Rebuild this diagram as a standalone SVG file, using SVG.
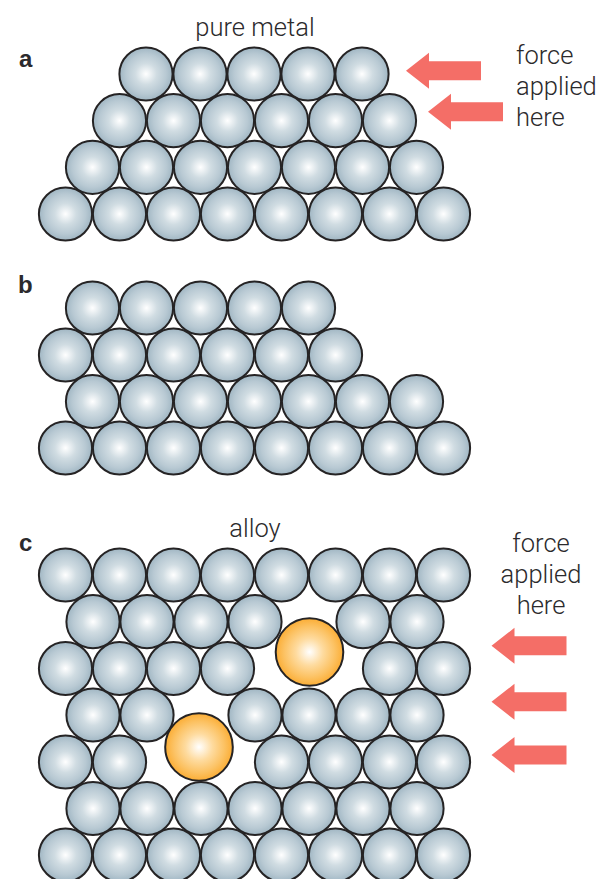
<svg xmlns="http://www.w3.org/2000/svg" width="607" height="879" viewBox="0 0 607 879">
<style>
.m{fill:url(#metal);stroke:#252324;stroke-width:2}
.g{fill:url(#solute);stroke:#252324;stroke-width:2}
.arrow{fill:#f46e67}
text{font-family:Roboto,"Liberation Sans",sans-serif;font-weight:300;font-size:25.5px;fill:#2b2a2c}
.mid{text-anchor:middle}
text.tag{font-family:"Liberation Sans",Arial,sans-serif;font-weight:700;font-size:24px;fill:#2b2a2c}
</style>
<defs>
<radialGradient id="metal"><stop offset="0" stop-color="#ffffff"/><stop offset="0.4" stop-color="#d0dce2"/><stop offset="0.75" stop-color="#b8c9d3"/><stop offset="1" stop-color="#a0b6c3"/></radialGradient>
<radialGradient id="solute"><stop offset="0" stop-color="#ffffff"/><stop offset="0.4" stop-color="#fedb9f"/><stop offset="0.75" stop-color="#fcc263"/><stop offset="1" stop-color="#fbad35"/></radialGradient>
<circle id="atom" class="m" r="26.6"/>
<circle id="big" class="g" r="33.8"/>
<polygon id="push" class="arrow" points="0,0 23,-18 23,-9.5 75,-9.5 75,9.5 23,9.5 23,18"/>
</defs>

<!-- panel a: pure metal before slip -->
<g id="panel-a">
<g id="a-row1"><use href="#atom" x="146" y="74"/><use href="#atom" x="200" y="74"/><use href="#atom" x="254" y="74"/><use href="#atom" x="308" y="74"/><use href="#atom" x="362" y="74"/></g>
<g id="a-row2"><use href="#atom" x="119.5" y="120.7"/><use href="#atom" x="173.5" y="120.7"/><use href="#atom" x="227.5" y="120.7"/><use href="#atom" x="281.5" y="120.7"/><use href="#atom" x="335.5" y="120.7"/><use href="#atom" x="389.5" y="120.7"/></g>
<g id="a-row3"><use href="#atom" x="92.5" y="167.3"/><use href="#atom" x="146.5" y="167.3"/><use href="#atom" x="200.5" y="167.3"/><use href="#atom" x="254.5" y="167.3"/><use href="#atom" x="308.5" y="167.3"/><use href="#atom" x="362.5" y="167.3"/><use href="#atom" x="416.5" y="167.3"/></g>
<g id="a-row4"><use href="#atom" x="65.5" y="214"/><use href="#atom" x="119.5" y="214"/><use href="#atom" x="173.5" y="214"/><use href="#atom" x="227.5" y="214"/><use href="#atom" x="281.5" y="214"/><use href="#atom" x="335.5" y="214"/><use href="#atom" x="389.5" y="214"/><use href="#atom" x="443.5" y="214"/></g>
</g>

<!-- panel b: pure metal after slip -->
<g id="panel-b">
<g id="b-row1"><use href="#atom" x="92.5" y="308"/><use href="#atom" x="146.5" y="308"/><use href="#atom" x="200.5" y="308"/><use href="#atom" x="254.5" y="308"/><use href="#atom" x="308.5" y="308"/></g>
<g id="b-row2"><use href="#atom" x="65.5" y="355"/><use href="#atom" x="119.5" y="355"/><use href="#atom" x="173.5" y="355"/><use href="#atom" x="227.5" y="355"/><use href="#atom" x="281.5" y="355"/><use href="#atom" x="335.5" y="355"/></g>
<g id="b-row3"><use href="#atom" x="92.5" y="401.5"/><use href="#atom" x="146.5" y="401.5"/><use href="#atom" x="200.5" y="401.5"/><use href="#atom" x="254.5" y="401.5"/><use href="#atom" x="308.5" y="401.5"/><use href="#atom" x="362.5" y="401.5"/><use href="#atom" x="416.5" y="401.5"/></g>
<g id="b-row4"><use href="#atom" x="65.5" y="448"/><use href="#atom" x="119.5" y="448"/><use href="#atom" x="173.5" y="448"/><use href="#atom" x="227.5" y="448"/><use href="#atom" x="281.5" y="448"/><use href="#atom" x="335.5" y="448"/><use href="#atom" x="389.5" y="448"/><use href="#atom" x="443.5" y="448"/></g>
</g>

<!-- panel c: alloy with two larger solute atoms -->
<g id="panel-c">
<g id="c-row1"><use href="#atom" x="65.5" y="575"/><use href="#atom" x="119.5" y="575"/><use href="#atom" x="173.5" y="575"/><use href="#atom" x="227.5" y="575"/><use href="#atom" x="281.5" y="575"/><use href="#atom" x="335.5" y="575"/><use href="#atom" x="389.5" y="575"/><use href="#atom" x="443.5" y="575"/></g>
<g id="c-row2"><use href="#atom" x="93" y="621.7"/><use href="#atom" x="147" y="621.7"/><use href="#atom" x="201" y="621.7"/><use href="#atom" x="255" y="621.7"/><use href="#atom" x="363" y="621.7"/><use href="#atom" x="417" y="621.7"/></g>
<g id="c-row3"><use href="#atom" x="65.5" y="668.5"/><use href="#atom" x="119.5" y="668.5"/><use href="#atom" x="173.5" y="668.5"/><use href="#atom" x="227.5" y="668.5"/><use href="#atom" x="389.5" y="668.5"/><use href="#atom" x="443.5" y="668.5"/></g>
<g id="c-row4"><use href="#atom" x="93" y="715"/><use href="#atom" x="147" y="715"/><use href="#atom" x="255" y="715"/><use href="#atom" x="309" y="715"/><use href="#atom" x="363" y="715"/><use href="#atom" x="417" y="715"/></g>
<g id="c-row5"><use href="#atom" x="65.5" y="762"/><use href="#atom" x="119.5" y="762"/><use href="#atom" x="281.5" y="762"/><use href="#atom" x="335.5" y="762"/><use href="#atom" x="389.5" y="762"/><use href="#atom" x="443.5" y="762"/></g>
<g id="c-row6"><use href="#atom" x="93" y="808.5"/><use href="#atom" x="147" y="808.5"/><use href="#atom" x="201" y="808.5"/><use href="#atom" x="255" y="808.5"/><use href="#atom" x="309" y="808.5"/><use href="#atom" x="363" y="808.5"/><use href="#atom" x="417" y="808.5"/></g>
<g id="c-row7"><use href="#atom" x="65.5" y="855"/><use href="#atom" x="119.5" y="855"/><use href="#atom" x="173.5" y="855"/><use href="#atom" x="227.5" y="855"/><use href="#atom" x="281.5" y="855"/><use href="#atom" x="335.5" y="855"/><use href="#atom" x="389.5" y="855"/><use href="#atom" x="443.5" y="855"/></g>
<g id="c-solutes"><use href="#big" x="309.5" y="652"/><use href="#big" x="199" y="747"/></g>
</g>

<!-- applied force arrows -->
<g id="arrows">
<use href="#push" x="406" y="70.7"/>
<use href="#push" x="428" y="111.7"/>
<use href="#push" x="491.5" y="645.8"/>
<use href="#push" x="491.5" y="701.8"/>
<use href="#push" x="491.5" y="755"/>
</g>

<!-- labels -->
<g id="labels">
<text class="tag" x="19" y="67">a</text>
<text class="tag" x="18" y="293">b</text>
<text class="tag" x="19" y="551">c</text>
<text class="mid" x="255" y="36">pure metal</text>
<text class="mid" x="255" y="537">alloy</text>
<text x="516" y="64">force</text>
<text x="516" y="95">applied</text>
<text x="516" y="126">here</text>
<text class="mid" x="541" y="552">force</text>
<text class="mid" x="541" y="583">applied</text>
<text class="mid" x="541" y="614">here</text>
</g>
</svg>
